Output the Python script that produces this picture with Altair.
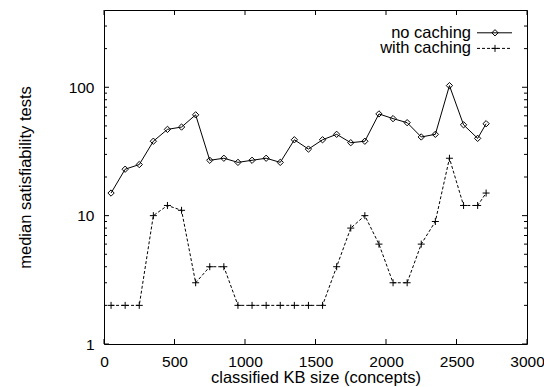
import altair as alt
import pandas as pd

# ---- data ----
kb_size = [50, 150, 250, 350, 450, 550, 650, 750, 850, 950, 1050, 1150, 1250, 1350,
           1450, 1550, 1650, 1750, 1850, 1950, 2050, 2150, 2250, 2350, 2450, 2550,
           2650, 2710]
no_caching = [15, 23, 25, 38, 47, 49, 61, 27, 28, 26, 27, 28, 26, 39,
              33, 39, 43, 37, 38, 62, 57, 53, 41, 43, 103, 51, 40, 52]
with_caching = [2, 2, 2, 10, 12, 11, 3, 4, 4, 2, 2, 2, 2, 2,
                2, 2, 4, 8, 10, 6, 3, 3, 6, 9, 28, 12, 12, 15]
series_names = ["no caching", "with caching"]
x_ticks = [0, 500, 1000, 1500, 2000, 2500, 3000]
y_major = [1, 10, 100]
y_minor = [2, 3, 4, 5, 6, 7, 8, 9, 20, 30, 40, 50, 60, 70, 80, 90, 200, 300]

W, H = 423, 334
FONT = "Liberation Sans"
PLUS = "M-1,0H1M0,-1V1"

df = pd.DataFrame({
    "size": kb_size * 2,
    "tests": no_caching + with_caching,
    "series": [series_names[0]] * len(kb_size) + [series_names[1]] * len(kb_size),
})

xs = alt.Scale(domain=[0, 3000], nice=False, zero=False)
ys = alt.Scale(type="log", domain=[1, 400], nice=False)

xax = alt.Axis(values=x_ticks, format="d", ticks=False, domain=False, grid=False,
               labelFont=FONT, labelFontSize=15.5, labelColor="black", labelPadding=10,
               labelFlush=False, labelOverlap=False,
               title="classified KB size (concepts)", titleFont=FONT, titleFontSize=16.5,
               titleFontWeight="normal", titleColor="black",
               titleX=W / 2, titleY=33, titleBaseline="middle", titleAlign="center")
yax = alt.Axis(values=y_major, format="d", ticks=False, domain=False, grid=False,
               labelFont=FONT, labelFontSize=15.5, labelColor="black", labelPadding=10,
               labelFlush=False, labelOverlap=False,
               title="median satisfiability tests", titleFont=FONT, titleFontSize=16.5,
               titleFontWeight="normal", titleColor="black",
               titleX=-79, titleY=H / 2, titleBaseline="middle", titleAlign="center",
               titleAngle=270)

base = alt.Chart(df)

no_df = base.transform_filter(alt.datum.series == series_names[0])
wc_df = base.transform_filter(alt.datum.series == series_names[1])

line_no = no_df.mark_line(color="black", strokeWidth=1).encode(
    x=alt.X("size:Q", scale=xs, axis=xax),
    y=alt.Y("tests:Q", scale=ys, axis=yax),
)
pts_no = no_df.mark_point(shape="diamond", filled=False, color="black", size=40,
                          strokeWidth=1, opacity=1).encode(
    x=alt.X("size:Q", scale=xs), y=alt.Y("tests:Q", scale=ys))
line_wc = wc_df.mark_line(color="black", strokeWidth=1, strokeDash=[3, 2]).encode(
    x=alt.X("size:Q", scale=xs), y=alt.Y("tests:Q", scale=ys))
pts_wc = wc_df.mark_point(shape=PLUS, filled=False, color="black", size=49,
                          strokeWidth=1, opacity=1).encode(
    x=alt.X("size:Q", scale=xs), y=alt.Y("tests:Q", scale=ys))

# inward ticks (gnuplot style) on all four sides
xt = alt.Chart(pd.DataFrame({"t": x_ticks}))
xt_bottom = xt.mark_rule(color="black", strokeWidth=1).encode(
    x=alt.X("t:Q", scale=xs), y=alt.value(H), y2=alt.value(H - 5))
xt_top = xt.mark_rule(color="black", strokeWidth=1).encode(
    x=alt.X("t:Q", scale=xs), y=alt.value(0), y2=alt.value(5))

ymj = alt.Chart(pd.DataFrame({"t": y_major}))
ymn = alt.Chart(pd.DataFrame({"t": y_minor}))
yt_l = ymj.mark_rule(color="black", strokeWidth=1).encode(
    y=alt.Y("t:Q", scale=ys), x=alt.value(0), x2=alt.value(5))
yt_r = ymj.mark_rule(color="black", strokeWidth=1).encode(
    y=alt.Y("t:Q", scale=ys), x=alt.value(W), x2=alt.value(W - 5))
ym_l = ymn.mark_rule(color="black", strokeWidth=1).encode(
    y=alt.Y("t:Q", scale=ys), x=alt.value(0), x2=alt.value(3))
ym_r = ymn.mark_rule(color="black", strokeWidth=1).encode(
    y=alt.Y("t:Q", scale=ys), x=alt.value(W), x2=alt.value(W - 3))

# custom legend (labels left of line samples, like gnuplot)
leg = alt.Chart(pd.DataFrame({"name": series_names, "row": [0, 1]}))
ROW_Y = [22.8, 38.4]
leg_no = leg.transform_filter(alt.datum.row == 0)
leg_wc = leg.transform_filter(alt.datum.row == 1)
leg_text_no = leg_no.mark_text(align="right", baseline="middle", font=FONT, fontSize=16.5,
                               color="black").encode(
    text="name:N", x=alt.value(367), y=alt.value(ROW_Y[0]))
leg_text_wc = leg_wc.mark_text(align="right", baseline="middle", font=FONT, fontSize=16.5,
                               color="black").encode(
    text="name:N", x=alt.value(367), y=alt.value(ROW_Y[1]))
leg_line_no = leg_no.mark_rule(color="black", strokeWidth=1).encode(
    x=alt.value(373), x2=alt.value(408), y=alt.value(ROW_Y[0]))
leg_line_wc = leg_wc.mark_rule(color="black", strokeWidth=1, strokeDash=[3, 2]).encode(
    x=alt.value(373), x2=alt.value(408), y=alt.value(ROW_Y[1]))
leg_pt_no = leg_no.mark_point(shape="diamond", filled=False, color="black", size=40,
                              strokeWidth=1, opacity=1).encode(
    x=alt.value(391), y=alt.value(ROW_Y[0]))
leg_pt_wc = leg_wc.mark_point(shape=PLUS, filled=False, color="black", size=49,
                              strokeWidth=1, opacity=1).encode(
    x=alt.value(391), y=alt.value(ROW_Y[1]))

chart = alt.layer(
    line_no, pts_no, line_wc, pts_wc,
    xt_bottom, xt_top, yt_l, yt_r, ym_l, ym_r,
    leg_text_no, leg_text_wc, leg_line_no, leg_line_wc, leg_pt_no, leg_pt_wc,
).properties(
    width=W, height=H,
    autosize=alt.AutoSizeParams(type="none"),
    padding={"left": 104, "top": 10, "right": 17, "bottom": 43},
    background="white",
).configure_view(stroke="black", strokeWidth=1)

chart.save("out.html", embed_options={"renderer": "svg", "actions": False})
